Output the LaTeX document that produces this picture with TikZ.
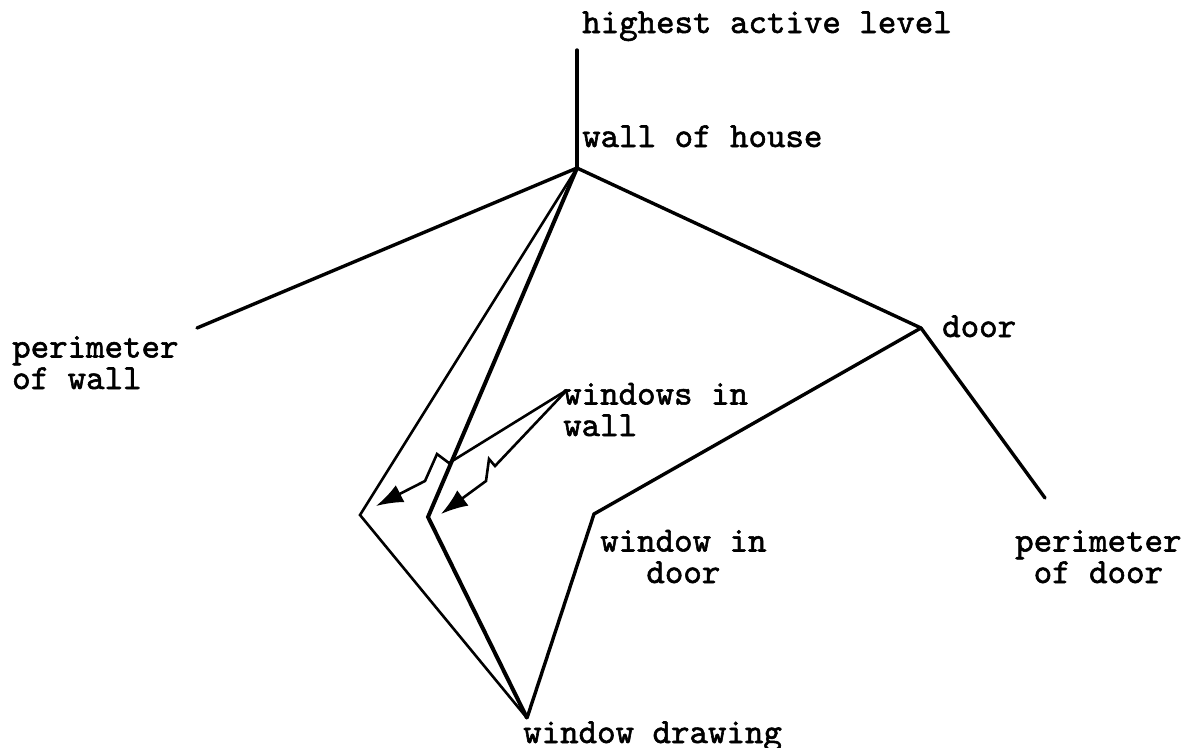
\documentclass[tikz,border=0pt]{standalone}
\usepackage{fontspec}
\setmonofont[FakeBold=1.6]{lmmono10-regular.otf}
\usetikzlibrary{arrows.meta}
\tikzset{
  lbl/.style={font=\ttfamily\fontsize{35.2}{31.5}\selectfont, inner sep=0pt, anchor=base west},
  edge/.style={line width=3.4pt, line join=miter, line cap=round},
  thinedge/.style={line width=2.6pt, line join=miter},
  thickedge/.style={line width=4pt, line join=miter},
  bolt/.style={line width=2.6pt, line join=miter, -{Latex[length=27pt,width=19pt]}}
}
\begin{document}
\begin{tikzpicture}[x=1pt,y=-1pt]
\useasboundingbox[fill=white] (0,0) rectangle (1185,747);
% coordinates
\coordinate (top) at (577,50);
\coordinate (apex) at (577,168);
\coordinate (pw) at (197,328);
\coordinate (door) at (921,328);
\coordinate (pd) at (1045,498);
\coordinate (wid) at (594,514);
\coordinate (bot) at (527,718);
\coordinate (lv) at (360,515);
\coordinate (mv) at (428,517);
\coordinate (orig) at (567,390);
% labels (multi-line nodes: base = last line's baseline)
\node[lbl] (hal) at (582,33) {highest active level};
\node[lbl] (woh) at (582,147) {wall of house};
\node[lbl] (dr) at (942,337) {door};
\node[lbl, align=left] (pwl) at (12,389) {perimeter\\of wall};
\node[lbl, align=left] (wwl) at (563,436) {windows in\\wall};
\node[lbl, align=center] (wdl) at (600,583) {window in\\door};
\node[lbl, align=center] (pdl) at (1015,583) {perimeter\\of door};
\node[lbl] (wdr) at (523,743) {window drawing};
% edges
\draw[edge] (top) -- (apex);
\draw[edge] (apex) -- (pw);
\draw[edge] (apex) -- (door);
\draw[edge] (door) -- (pd);
\draw[edge] (door) -- (wid) -- (bot);
\draw[thinedge] (apex) -- (lv) -- (bot);
\draw[thickedge] (apex) -- (mv) -- (bot);
% lightning arrows
\draw[bolt] (orig) -- (449,463) -- (437,454) -- (425,481) -- (376,506);
\draw[bolt] (orig) -- (495,466) -- (489,459) -- (486,481) -- (441,514);
\end{tikzpicture}
\end{document}
